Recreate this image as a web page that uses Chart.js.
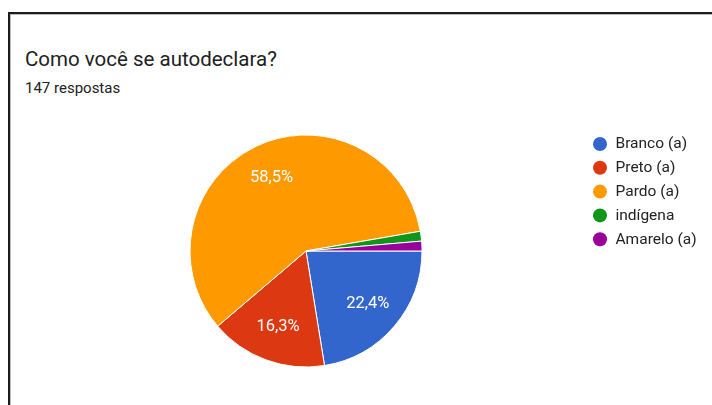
<!DOCTYPE html>
<html>
<head>
<meta charset="utf-8">
<script src="https://cdn.jsdelivr.net/npm/chart.js@4/dist/chart.umd.min.js"></script>
<style>
  html, body { margin: 0; padding: 0; background: #fff; }
  body { width: 712px; height: 405px; position: relative; overflow: hidden; font-family: Roboto, Arial, sans-serif; }
  #frame { position: absolute; left: 8px; top: 12px; width: 720px; height: 420px; border-left: 2px solid #1c1c1c; border-top: 2px solid #1c1c1c; box-shadow: inset 1px 1px 0 #bbb; }
  #title { position: absolute; left: 25px; top: 47px; font-size: 20.5px; line-height: 24px; color: #202124; white-space: nowrap; }
  #subtitle { position: absolute; left: 25px; top: 79px; font-size: 15px; line-height: 18px; color: #202124; white-space: nowrap; }
  #wrap { position: absolute; left: 0; top: 0; width: 712px; height: 405px; }
</style>
</head>
<body>
<div id="frame"></div>
<div id="title">Como você se autodeclara?</div>
<div id="subtitle">147 respostas</div>
<div id="wrap"><canvas id="c" width="712" height="405"></canvas></div>
<script>
const categories = ["Branco (a)", "Preto (a)", "Pardo (a)", "indígena", "Amarelo (a)"];
const counts = [33, 24, 86, 2, 2];
const percentLabels = ["22,4%", "16,3%", "58,5%", "", ""];
const colors = ["#3366cc", "#dc3912", "#ff9900", "#109618", "#990099"];

const sliceLabels = {
  id: 'sliceLabels',
  afterDatasetsDraw(chart) {
    const ctx = chart.ctx;
    const meta = chart.getDatasetMeta(0);
    ctx.save();
    ctx.font = '16.5px Roboto, Arial, sans-serif';
    ctx.fillStyle = '#ffffff';
    ctx.textAlign = 'center';
    ctx.textBaseline = 'middle';
    meta.data.forEach((arc, i) => {
      const t = percentLabels[i];
      if (!t) return;
      const p = arc.getProps(['x', 'y', 'startAngle', 'endAngle', 'outerRadius'], true);
      const mid = (p.startAngle + p.endAngle) / 2;
      const r = p.outerRadius * 0.7;
      ctx.fillText(t, p.x + Math.cos(mid) * r, p.y + Math.sin(mid) * r);
    });
    ctx.restore();
  }
};

const customLegend = {
  id: 'customLegend',
  afterDraw(chart) {
    const ctx = chart.ctx;
    ctx.save();
    ctx.font = '15.5px Roboto, Arial, sans-serif';
    ctx.textBaseline = 'middle';
    ctx.textAlign = 'left';
    categories.forEach((name, i) => {
      const y = 144 + i * 23.8;
      ctx.beginPath();
      ctx.arc(600, y, 7, 0, Math.PI * 2);
      ctx.fillStyle = colors[i];
      ctx.fill();
      ctx.fillStyle = '#222222';
      ctx.fillText(name, 615.5, y + 0.5);
    });
    ctx.restore();
  }
};

new Chart(document.getElementById('c'), {
  type: 'pie',
  data: {
    labels: categories,
    datasets: [{
      data: counts,
      backgroundColor: colors,
      borderColor: '#ffffff',
      borderWidth: 1
    }]
  },
  options: {
    responsive: false,
    animation: false,
    rotation: 90,
    layout: { padding: { left: 189.5, right: 289.5, top: 134.5, bottom: 37.5 } },
    plugins: {
      legend: { display: false },
      title: { display: false },
      tooltip: { enabled: false }
    }
  },
  plugins: [sliceLabels, customLegend]
});
</script>
</body>
</html>
